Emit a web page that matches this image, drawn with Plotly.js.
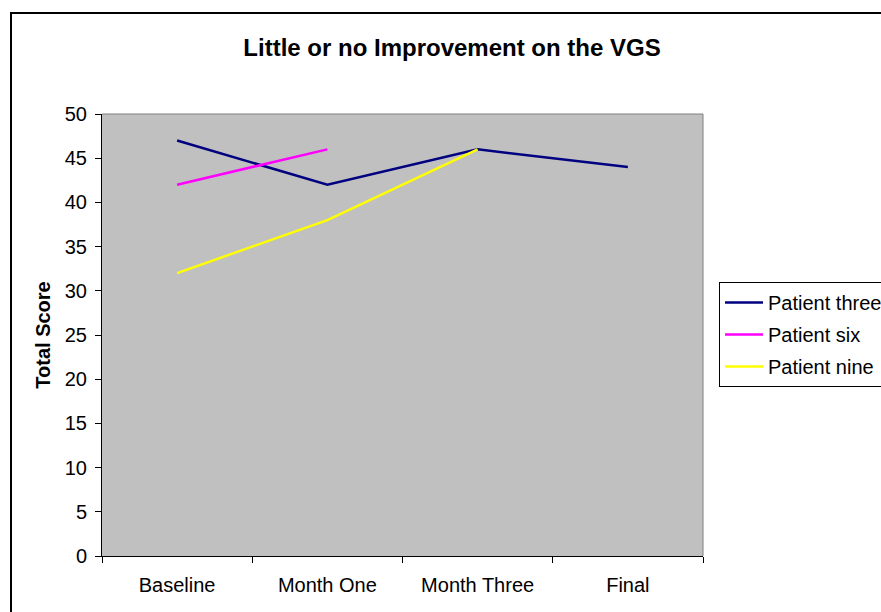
<!DOCTYPE html>
<html>
<head>
<meta charset="utf-8">
<script src="https://cdn.plot.ly/plotly-3.0.1.min.js"></script>
<style>
  html, body { margin: 0; padding: 0; background: #fff; }
  #chart { width: 881px; height: 612px; }
</style>
</head>
<body>
<div id="chart"></div>
<script>
const categories = ["Baseline", "Month One", "Month Three", "Final"];
const patientThree = [47, 42, 46, 44];
const patientSix = [42, 46, null, null];
const patientNine = [32, 38, 46, null];
const seriesNames = ["Patient three", "Patient six", "Patient nine"];
const yTicks = [0, 5, 10, 15, 20, 25, 30, 35, 40, 45, 50];

const FONT = "Arial, 'Liberation Sans', sans-serif";
const colors = ["#000080", "#FF00FF", "#FFFF00"];
const seriesData = [patientThree, patientSix, patientNine];

const traces = seriesData.map((vals, i) => ({
  type: "scatter",
  mode: "lines",
  x: categories,
  y: vals,
  name: seriesNames[i],
  legendgroup: "g" + i,
  line: { color: colors[i], width: 2.5 },
  connectgaps: false
}));

// plot area pixel geometry
const L = 102, R = 703, T = 114, B = 556, W = 881, H = 612;
const px = v => (v - L) / (R - L);
const py = v => (B - v) / (B - T);

const layout = {
  width: W, height: H,
  margin: { l: L, r: W - R, t: T, b: H - B, pad: 0, autoexpand: false },
  paper_bgcolor: "#FFFFFF",
  plot_bgcolor: "#C0C0C0",
  font: { family: FONT, size: 20, color: "#000" },
  title: {
    text: "<b>Little or no Improvement on the VGS</b>",
    font: { family: FONT, size: 24, color: "#000" },
    x: px(452), xref: "paper", xanchor: "center",
    y: 1 - 48 / H, yref: "container", yanchor: "middle"
  },
  showlegend: true,
  legend: {
    x: px(719), xanchor: "left",
    y: py(282), yanchor: "top",
    bgcolor: "#FFFFFF",
    bordercolor: "#000000", borderwidth: 1,
    font: { family: FONT, size: 20, color: "#000" },
    traceorder: "grouped",
    tracegroupgap: 3,
    itemwidth: 38
  },
  xaxis: {
    type: "category",
    categoryarray: categories,
    range: [-0.5, 3.5],
    tickson: "boundaries",
    ticks: "outside", ticklen: 6, tickcolor: "#000", tickwidth: 1,
    showline: true, linecolor: "#000", linewidth: 1,
    showgrid: false, zeroline: false,
    tickfont: { family: FONT, size: 20, color: "#000" },
    ticklabelstandoff: 11,
    fixedrange: true
  },
  yaxis: {
    range: [0, 50],
    tickvals: yTicks,
    ticks: "outside", ticklen: 6, tickcolor: "#000", tickwidth: 1,
    showline: true, linecolor: "#000", linewidth: 1,
    showgrid: false, zeroline: false,
    tickfont: { family: FONT, size: 20, color: "#000" },
    ticklabelstandoff: 4,
    title: {
      text: "<b>Total Score</b>",
      font: { family: FONT, size: 20, color: "#000" },
      standoff: 8
    },
    automargin: false,
    fixedrange: true
  },
  shapes: [
    { type: "line", xref: "paper", yref: "paper", x0: 0, x1: 1, y0: 1, y1: 1,
      line: { color: "#808080", width: 1 } },
    { type: "line", xref: "paper", yref: "paper", x0: 1, x1: 1, y0: 0, y1: 1,
      line: { color: "#808080", width: 1 } },
    { type: "rect", xref: "paper", yref: "paper",
      x0: px(11), x1: px(890), y0: py(620), y1: py(13),
      line: { color: "#000", width: 2 }, fillcolor: "rgba(0,0,0,0)" }
  ]
};

Plotly.newPlot("chart", traces, layout, { staticPlot: true, displayModeBar: false });
</script>
</body>
</html>
